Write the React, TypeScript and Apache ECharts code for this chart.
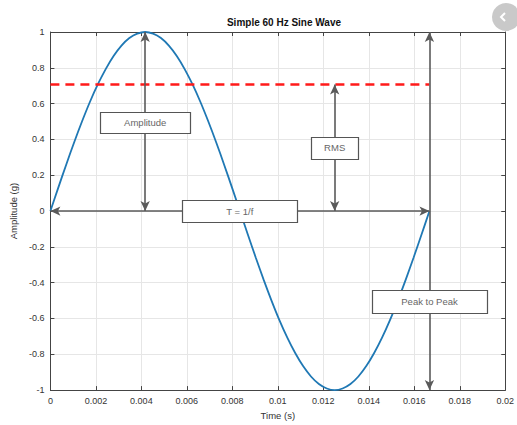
import React, { useEffect, useRef } from "react";
import * as echarts from "echarts";

// Sine wave samples (time in s, amplitude in g), read every 7.5 degrees of one 60 Hz period
const timeValues = [
  0, 0.000347, 0.000694, 0.001042, 0.001389, 0.001736, 0.002083, 0.002431, 0.002778,
  0.003125, 0.003472, 0.003819, 0.004167, 0.004514, 0.004861, 0.005208, 0.005556,
  0.005903, 0.00625, 0.006597, 0.006944, 0.007292, 0.007639, 0.007986, 0.008333,
  0.008681, 0.009028, 0.009375, 0.009722, 0.010069, 0.010417, 0.010764, 0.011111,
  0.011458, 0.011806, 0.012153, 0.0125, 0.012847, 0.013194, 0.013542, 0.013889,
  0.014236, 0.014583, 0.014931, 0.015278, 0.015625, 0.015972, 0.016319, 0.016667,
];
const amplitudeValues = [
  0, 0.131, 0.259, 0.383, 0.5, 0.609, 0.707, 0.793, 0.866, 0.924, 0.966, 0.991, 1,
  0.991, 0.966, 0.924, 0.866, 0.793, 0.707, 0.609, 0.5, 0.383, 0.259, 0.131, 0,
  -0.131, -0.259, -0.383, -0.5, -0.609, -0.707, -0.793, -0.866, -0.924, -0.966, -0.991, -1,
  -0.991, -0.966, -0.924, -0.866, -0.793, -0.707, -0.609, -0.5, -0.383, -0.259, -0.131, 0,
];

const rmsLevel = 0.707;
const periodEnd = 0.016667;
const peakTime = 0.004167;
const troughTime = 0.0125;

// annotation boxes
const boxNames = ["Amplitude", "RMS", "T = 1/f", "Peak to Peak"];
const boxX = [0.00417, 0.0125, 0.00833, 0.01667];
const boxY = [0.497, 0.354, 0, -0.503];
const boxW = [90, 47, 115, 115];
const boxH = [21, 22, 22, 23];

const xTicks = { min: 0, max: 0.02, interval: 0.002 };
const yTicks = { min: -1, max: 1, interval: 0.2 };

export default function App() {
  const ref = useRef<HTMLDivElement>(null);
  useEffect(() => {
    if (!ref.current) return;
    const chart = echarts.init(ref.current, undefined, { renderer: "svg" });
    const font = "Liberation Sans, Arial, sans-serif";
    const arrowStyle = { color: "#5a5a5a", width: 1.6, type: "solid" as const };
    const tickCommon = { inside: true, length: 4, lineStyle: { color: "#444" } };
    const axisLine = { show: true, onZero: false, lineStyle: { color: "#444", width: 1 } };

    chart.setOption({
      animation: false,
      backgroundColor: "#fff",
      title: {
        text: "Simple 60 Hz Sine Wave",
        left: 279,
        textAlign: "center",
        top: 12,
        textStyle: { fontFamily: font, fontSize: 10, fontWeight: "bold", color: "#111" },
      },
      grid: { left: 49, right: 8, top: 32, bottom: 31, containLabel: false },
      xAxis: [
        {
          type: "value",
          ...xTicks,
          name: "Time (s)",
          nameLocation: "middle",
          nameGap: 18,
          nameTextStyle: { fontFamily: font, fontSize: 9.5, color: "#333" },
          axisLine,
          axisTick: tickCommon,
          axisLabel: {
            fontFamily: font, fontSize: 9, color: "#333", margin: 6,
            formatter: (v: number) => String(+v.toFixed(4)),
          },
          splitLine: { show: true, lineStyle: { color: "#e6e6e6", width: 1 } },
        },
        {
          type: "value",
          ...xTicks,
          position: "top",
          axisLine,
          axisTick: tickCommon,
          axisLabel: { show: false },
          splitLine: { show: false },
        },
      ],
      yAxis: [
        {
          type: "value",
          ...yTicks,
          name: "Amplitude (g)",
          nameLocation: "middle",
          nameGap: 28,
          nameTextStyle: { fontFamily: font, fontSize: 9.5, color: "#333" },
          axisLine,
          axisTick: tickCommon,
          axisLabel: {
            fontFamily: font, fontSize: 9, color: "#333", margin: 6,
            formatter: (v: number) => String(+v.toFixed(2)),
          },
          splitLine: { show: true, lineStyle: { color: "#e6e6e6", width: 1 } },
        },
        {
          type: "value",
          ...yTicks,
          position: "right",
          axisLine,
          axisTick: tickCommon,
          axisLabel: { show: false },
          splitLine: { show: false },
        },
      ],
      series: [
        {
          type: "line",
          xAxisIndex: 0,
          yAxisIndex: 0,
          data: timeValues.map((t, i) => [t, amplitudeValues[i]]),
          smooth: 0.3,
          showSymbol: false,
          symbol: "none",
          lineStyle: { color: "#1f78b4", width: 1.8 },
          z: 2,
          markLine: {
            silent: true,
            symbol: ["none", "none"],
            label: { show: false },
            z: 3,
            data: [
              [
                { coord: [0, rmsLevel], lineStyle: { color: "#ff1a1a", width: 2.6, type: [9, 6] } },
                { coord: [periodEnd, rmsLevel] },
              ],
            ],
          },
        },
        {
          type: "line",
          xAxisIndex: 0,
          yAxisIndex: 0,
          data: [],
          z: 4,
          markLine: {
            silent: true,
            z: 4,
            symbol: ["arrow", "arrow"],
            symbolSize: [7, 10],
            label: { show: false },
            lineStyle: arrowStyle,
            data: [
              [{ coord: [peakTime, 0] }, { coord: [peakTime, 1] }],
              [{ coord: [troughTime, 0] }, { coord: [troughTime, rmsLevel] }],
              [{ coord: [0, 0] }, { coord: [periodEnd, 0] }],
              [{ coord: [periodEnd, -1] }, { coord: [periodEnd, 1] }],
            ],
          },
        },
        {
          type: "custom",
          xAxisIndex: 0,
          yAxisIndex: 0,
          z: 20,
          silent: true,
          data: boxNames.map((n, i) => [boxX[i], boxY[i], i]),
          renderItem: (_params: any, api: any) => {
            const i = api.value(2);
            const p = api.coord([api.value(0), api.value(1)]);
            const w = boxW[i];
            const h = boxH[i];
            return {
              type: "group",
              children: [
                {
                  type: "rect",
                  shape: { x: Math.round(p[0] - w / 2) + 0.5, y: Math.round(p[1] - h / 2) + 0.5, width: w, height: h },
                  style: { fill: "#fff", stroke: "#555", lineWidth: 1.2 },
                },
                {
                  type: "text",
                  x: p[0],
                  y: p[1],
                  style: {
                    text: boxNames[i],
                    fill: "#666",
                    font: `9.5px ${font}`,
                    align: "center",
                    verticalAlign: "middle",
                  },
                },
              ],
            };
          },
        },
      ],
      graphic: [
        {
          type: "circle",
          shape: { cx: 506, cy: 17, r: 14 },
          style: { fill: "#c9c9c9" },
          z: 100,
        },
        {
          type: "polyline",
          shape: { points: [[505, 13], [501, 17], [505, 21]] },
          style: { stroke: "#fff", lineWidth: 2, fill: "none" },
          z: 101,
        },
      ],
    });
    return () => chart.dispose();
  }, []);
  return (
    <div
      ref={ref}
      style={{ position: "fixed", left: 0, top: 0, width: 517, height: 425 }}
    />
  );
}
